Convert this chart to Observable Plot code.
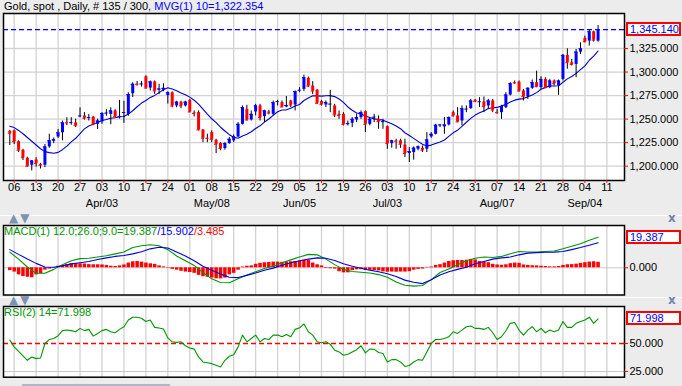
<!DOCTYPE html>
<html><head><meta charset="utf-8">
<script src="https://cdn.jsdelivr.net/npm/d3@7"></script>
<script src="https://cdn.jsdelivr.net/npm/@observablehq/plot@0.6"></script>
<style>
html,body{margin:0;padding:0;background:#ececec;}
#wrap{position:relative;width:682px;height:386px;background:#ececec;overflow:hidden;font-family:"Liberation Sans",Arial,sans-serif;font-size:11px;}
.abs{position:absolute;white-space:nowrap;line-height:13px;}
.box{position:absolute;left:626px;width:55px;height:14px;box-sizing:border-box;border:2px solid #f00;background:#fff;color:#0000ff;font-size:11px;line-height:10px;padding-left:2px;}
.sep{position:absolute;left:0;width:682px;height:1px;background:#ffffff;}
.tri{position:absolute;font-family:"DejaVu Sans",sans-serif;font-size:12px;color:#7f90b5;letter-spacing:2px;line-height:14px;}
.xb{position:absolute;font-family:"DejaVu Sans",sans-serif;font-weight:bold;font-size:12px;color:#7383a8;}
</style></head><body><div id="wrap"></div>
<script>
// ---- data ----
const weekLabels = ["06","13","20","27","03","10","17","24","01","08","15","22","29","05","12","19","26","03","10","17","24","31","07","14","21","28","04","11"];
const monthLabels = ["Apr/03","May/08","Jun/05","Jul/03","Aug/07","Sep/04"];
const monthWeek = [4, 9, 13, 17, 22, 26];

const open = [1237,1237.5,1226,1217,1208.5,1201,1206.5,1202,1201,1220.5,
1226.5,1231,1235.5,1246.5,1246,1246,1253,1253.3,1251,1252,
1244.5,1247,1256,1255,1258.7,1252.3,1256.5,1255,1277,1287.3,
1287,1295,1283,1289.5,1281,1280.6,1275,1278,1264,1268,
1264,1270,1256.5,1257,1238.5,1229.7,1235.7,1227.6,1224,1218.7,
1224,1226.9,1231,1244.5,1260.4,1249.1,1257.6,1264,1252.7,1257.6,
1255.1,1268.2,1267.5,1262.9,1269.3,1265,1280.3,1281.6,1293.3,1285.2,
1280.6,1268.6,1265,1265.7,1264,1255.1,1255.1,1244.2,1245.6,1249.1,
1251.6,1257.9,1244.5,1251.7,1249.8,1247,1242,1224,1226.9,1226.9,
1222.6,1213.4,1214.5,1218,1219.1,1218,1231.1,1233.9,1243.5,1241.7,
1243.8,1256.9,1253.4,1248,1260.4,1261.1,1270,1268,1268.2,1264,
1269.3,1257.2,1256.9,1262.2,1275.6,1288.9,1289.4,1279.9,1273.9,1282.7,
1288.7,1283.4,1292.2,1283.4,1290.5,1285.2,1292.2,1317.7,1309.9,1308.1,
1321.2,1335.7,1332.9,1342.8,1332.9];
const high = [1238,1238.5,1227,1218,1209.5,1206,1209,1203,1223,1234,
1230,1239,1248,1251.5,1251.5,1250,1262,1257,1255,1253,
1250,1257,1260,1262,1260,1270,1269,1278,1288.7,1290,
1290,1296,1290.5,1290.5,1287,1287.6,1279,1279,1269,1269,
1269,1271,1258.7,1258.7,1239,1234,1237.5,1228.6,1225,1225,
1230.4,1233.2,1246.3,1264,1264.7,1258.7,1265.7,1265.7,1259.4,1259.4,
1269.3,1270,1269.3,1274,1270,1279.9,1283.4,1296.8,1294.7,1289.8,
1281.6,1270,1269.3,1280.6,1265.7,1258.7,1256.9,1248,1251.6,1255.1,
1258.7,1258.7,1251.6,1255.1,1253.4,1249.8,1242.8,1227.6,1228.6,1228.6,
1228.6,1219.8,1220.5,1221.5,1221.5,1235.7,1235.7,1244.5,1244.5,1251.6,
1252.3,1258.7,1262.2,1264,1264,1271,1271,1272.8,1273.5,1271,
1271,1260.4,1264.7,1278,1288.7,1290.5,1290.5,1281.6,1283.4,1291.5,
1301,1295,1294,1292.2,1291.5,1291.5,1318.7,1324.7,1313.4,1324,
1331.1,1338.2,1345.2,1343.5,1349.4];
const low = [1222,1223,1214.5,1206,1199,1195,1199,1197,1198.5,1219,
1224,1229.5,1227,1243,1243.5,1241,1251.5,1249,1248,1243,
1239,1244.5,1253,1244,1251.6,1250,1245.5,1253,1273,1285,
1284,1282,1280,1276.3,1276,1279,1266,1262,1262,1261,
1263,1257,1252.3,1237.5,1225,1225,1225,1213.4,1216.3,1217,
1223.3,1225.1,1230.4,1243.8,1248,1248,1253.4,1248,1246.3,1254.4,
1253.4,1264,1262.2,1262.2,1262.2,1258.7,1278.1,1279.2,1283.4,1276,
1265.7,1264,1262.2,1256.9,1251.6,1249.8,1242.8,1242.8,1241,1246.3,
1249.8,1235.7,1242.8,1246.3,1239.2,1239.2,1218,1219.1,1218,1219,
1209.2,1203.9,1206.4,1216.3,1214.5,1214.5,1229.7,1233.2,1241,1233.9,
1242.8,1252.3,1246.3,1242.8,1256.9,1260.4,1267.5,1262.2,1256.9,1260.4,
1256.9,1255.1,1249.8,1261.1,1274.6,1286.9,1278.8,1269.3,1271,1281.6,
1283.4,1281.6,1282.3,1282.3,1285.2,1275.3,1290.5,1303,1306.4,1294,
1318.7,1331.1,1327.6,1331.8,1331.8];
const close = [1235,1226,1217,1209,1200,1205.5,1203,1201,1220.5,1227,
1228,1235.5,1246,1246,1246.3,1243,1253.3,1251,1251.6,1244.5,
1248,1256,1256.3,1258.7,1252.6,1252.6,1257,1276,1287,1287,
1287.3,1283,1289.5,1280,1282,1282.7,1278,1264,1268,1264,
1268,1257.6,1256,1238.5,1229.7,1229.5,1228.6,1223.3,1218.7,1224,
1228.6,1231.1,1244.5,1262.2,1249.1,1255.1,1264,1251.6,1258.7,1256.5,
1267.5,1268.6,1262.9,1264.5,1265,1279.2,1280.6,1294,1285.2,1279.9,
1266.8,1265.7,1267.5,1265.9,1254.4,1254,1244.5,1245.2,1249.8,1251.6,
1256.9,1244.5,1249.8,1252,1247.3,1247.3,1224,1226.9,1226.6,1223.3,
1213.4,1215.5,1219.1,1220.5,1217,1227.9,1233.9,1243.5,1243.8,1243.8,
1251.6,1253.4,1247,1261.1,1260.6,1269.3,1268.9,1268.4,1263.3,1269.3,
1259.7,1256.9,1263.3,1275.6,1287.6,1288.5,1279.9,1273.9,1282.7,1288.7,
1284.5,1292.2,1283.4,1290.5,1287.6,1290.5,1317.7,1309.9,1308.1,1321.2,
1324.7,1332.2,1342.8,1333.9,1345.14];
const mvg10 = [1242.5,1241,1238,1234.5,1230.5,1226.5,1222.5,1218.5,1215.5,1214.4,
1213.7,1214.65,1217.55,1221.25,1225.88,1229.63,1234.66,1239.66,1242.77,1244.52,
1246.52,1248.57,1249.6,1250.87,1251.5,1252.46,1252.83,1255.33,1258.87,1263.12,
1267.05,1269.75,1273.07,1275.2,1278.14,1281.15,1283.25,1282.05,1280.15,1277.85,
1275.92,1273.38,1270.03,1265.88,1260.65,1255.33,1250.39,1246.32,1241.39,1237.39,
1233.45,1230.8,1229.65,1232.02,1233.96,1236.52,1240.06,1242.89,1246.89,1250.14,
1254.03,1257.78,1259.62,1259.85,1261.44,1263.85,1265.51,1269.75,1272.4,1274.74,
1274.67,1274.38,1274.84,1274.98,1273.92,1271.4,1267.79,1262.91,1259.37,1256.54,
1255.55,1253.43,1251.66,1250.27,1249.56,1248.89,1246.84,1245.01,1242.69,1239.86,
1235.51,1232.61,1229.54,1226.39,1223.36,1221.42,1222.41,1224.07,1225.79,1227.84,
1231.66,1235.45,1238.24,1242.3,1246.66,1250.8,1254.3,1256.79,1258.74,1261.29,
1262.1,1262.45,1264.08,1265.53,1268.23,1270.15,1271.25,1271.8,1273.74,1275.68,
1278.16,1281.69,1283.7,1285.19,1285.19,1285.39,1289.17,1292.77,1295.31,1298.56,
1302.58,1306.58,1312.52,1316.86,1322.35];
const priceTicks = [1200, 1225, 1250, 1275, 1300, 1325];

// MACD lines sampled every 2nd bar (bars 0,2,...,134)
const macdLine = [9.9,5.5,0.5,-3.5,-3.5,-1.0,2.0,4.5,5.8,6.0,
6.8,7.6,8.8,10.0,12.8,14.0,14.6,14.0,11.5,7.5,
4.5,1.5,-3.0,-7.0,-9.3,-9.5,-7.0,-4.5,-2.5,-0.5,
1.0,3.2,5.0,6.8,8.5,8.2,5.5,2.0,-1.0,-2.3,
-2.8,-3.3,-4.3,-6.0,-9.0,-11.0,-11.6,-11.2,-7.5,-3.0,
-0.8,2.0,4.4,6.0,6.8,6.5,7.2,8.9,10.3,10.0,
10.0,10.3,10.6,12.0,13.6,15.2,17.5,19.387];
const signalLine = [11.5,8.5,5.5,2.8,0.5,0.3,1.2,2.5,3.2,4.0,
5.3,6.3,7.2,7.8,8.8,10.2,12.0,13.0,12.5,10.0,
7.5,4.5,1.0,-1.5,-4.0,-6.0,-6.2,-4.8,-3.3,-1.5,
-0.2,1.6,3.2,4.5,5.5,6.3,6.0,4.6,2.5,1.0,
-0.3,-1.5,-2.5,-3.8,-5.5,-7.8,-9.2,-10.0,-7.5,-4.5,
-2.5,-1.0,0.4,2.5,4.0,5.5,6.3,6.8,8.2,9.3,
9.6,9.8,9.9,10.3,11.5,12.8,14.3,15.902];
const histogram = [-1.8,-2.7,-4.5,-5.5,-6.0,-6.3,-4.5,-3.8,-1.5,-0.8,
-0.3,1.0,1.5,2.0,2.5,2.6,2.5,2.4,2.0,1.9,
1.9,1.8,1.5,1.0,0.8,1.2,1.8,3.0,3.8,4.0,
3.6,3.0,2.5,2.2,1.2,0.6,-0.3,-1.0,-1.5,-2.2,
-2.7,-3.0,-3.5,-4.8,-5.6,-6.0,-6.5,-7.0,-7.0,-6.5,
-4.5,-3.5,-1.5,0.5,1.0,1.2,2.2,2.8,3.2,3.4,
3.6,3.6,3.5,3.6,3.8,4.0,4.2,4.6,4.6,3.0,
1.9,1.2,-0.4,-0.6,-0.8,-2.5,-3.2,-3.2,-1.8,-1.3,
-1.2,-1.7,-1.6,-1.7,-2.0,-2.6,-2.8,-2.7,-2.8,-2.7,
-2.7,-2.5,-1.5,-1.0,-0.8,0.3,0.5,1.5,2.0,3.0,
4.0,4.5,4.6,4.6,4.8,5.3,5.0,4.0,3.6,3.2,
2.2,1.8,1.6,1.9,2.6,3.0,2.8,1.8,1.5,1.3,
1.2,1.0,0.8,0.6,0.6,0.8,1.5,1.9,2.0,2.3,
2.8,3.2,3.6,3.8,3.485];
const macdTicks = [0];

const rsi = [53,47,43,39,35,38,36.5,37,50,53.5,
54.5,57,61.5,62,61.5,60.5,63.5,61.5,62.6,56.6,
59,61.5,62.6,60.5,59.6,62.6,65,71,73.5,73.5,
72.6,69.6,71,64.4,63.8,63,55,51.5,51,51.5,
48,46,45,38,33.5,32.8,32,30.5,29,35,
38.6,40,47,57.5,51.5,54.5,57.5,51.5,54.5,53.5,
57.5,57.5,56,58,56,62.6,64,67.4,60.5,57.5,
51.5,50.6,51.5,49.4,44,42.5,39.5,40.4,42.5,44.5,
48,41.6,45,44.8,42,41,33.5,35.6,35.6,33.5,
29.5,30.4,33.5,35.6,35,42.5,50,53.6,53.6,54.5,
56,60.5,59,62,65,65.6,63.5,63.5,62.6,64.4,
59.6,53.6,56,61.4,68,68.7,62,57.5,62,65,
60.5,63.5,59.6,62,60.5,62,69.6,64.4,64.4,68,
69.6,71,73.5,68,71.998];
const rsiTicks = [25, 50];

// ---- tables built from the arrays ----
const candles = close.map((c, i) => ({i, open: open[i], high: high[i], low: low[i], close: c}));
const maRows = mvg10.map((v, i) => ({i, v}));
const macdRows = macdLine.map((v, k) => ({i: 2 * k, v}));
const signalRows = signalLine.map((v, k) => ({i: 2 * k, v}));
const histRows = histogram.map((v, i) => ({i, v}));
const rsiRows = rsi.map((v, i) => ({i, v}));
const weekRows = weekLabels.map((label, k) => ({i: 1 + 5 * k, label}));
const weekIdx = weekRows.map(d => d.i);
const monthRows = monthLabels.map((label, k) => ({i: weekRows[monthWeek[k]].i, label}));
const lastClose = close[close.length - 1];

const XD = [-1.435, 140.02];
const GRID = "#d2d2d2";
const BLUE = "#0000ff", RED = "#ff0000", GREEN = "#009600";
const f3 = d3.format(".3f"), fc3 = d3.format(",.3f");
const bodyColor = d => d.close >= d.open ? BLUE : RED;
const svgStyle = top => ({position: "absolute", left: "0px", top: top + "px", background: "transparent", overflow: "visible", fontFamily: "'Liberation Sans', Arial, sans-serif", fontSize: "11px", maxWidth: "none"});

const PY = [1184.8, 1362.2];
const price = Plot.plot({
  width: 682, height: 215, marginLeft: 3, marginRight: 58, marginTop: 13, marginBottom: 35,
  x: {domain: XD, axis: null}, y: {domain: PY, axis: null},
  style: svgStyle(0),
  marks: [
    Plot.frame({fill: "white", stroke: "none"}),
    Plot.ruleY(priceTicks, {stroke: GRID, strokeWidth: 1.3}),
    Plot.ruleX(weekIdx, {stroke: GRID, strokeWidth: 1.3}),
    Plot.ruleY([lastClose], {stroke: BLUE, strokeWidth: 1.3, strokeDasharray: "5,3"}),
    Plot.line(maRows, {x: "i", y: "v", stroke: "#0000d0", strokeWidth: 1.1}),
    Plot.ruleX(candles, {x: "i", y1: "low", y2: "high", stroke: "black", strokeWidth: 1}),
    Plot.ruleX(candles, {x: "i", y1: "open", y2: "close", stroke: bodyColor, strokeWidth: 3}),
    Plot.ruleY(candles, {y: "close", x1: d => d.i - 0.36, x2: d => d.i + 0.36, stroke: bodyColor, strokeWidth: 1}),
    Plot.frame({stroke: "black", strokeWidth: 1.5}),
    Plot.ruleY(priceTicks, {x1: XD[1], x2: XD[1], insetRight: -4, stroke: RED}),
    Plot.text(priceTicks, {x: XD[1], y: d => d, text: fc3, textAnchor: "start", dx: 5, fontSize: 11, fill: "black"}),
    Plot.ruleX(weekIdx, {y1: PY[0], y2: PY[0], insetBottom: -3, stroke: RED}),
    Plot.text(weekRows, {x: "i", frameAnchor: "bottom", dy: 10, text: "label", fontSize: 11, fill: "black"}),
    Plot.text(monthRows, {x: "i", frameAnchor: "bottom", dy: 26, text: "label", fontSize: 11, fill: "black"})
  ]
});

const MY = [-17.22, 26.77];
const macd = Plot.plot({
  width: 682, height: 80, marginLeft: 3, marginRight: 58, marginTop: 5, marginBottom: 5.5,
  x: {domain: XD, axis: null}, y: {domain: MY, axis: null},
  style: svgStyle(220),
  marks: [
    Plot.frame({fill: "white", stroke: "none"}),
    Plot.ruleX(weekIdx, {stroke: GRID, strokeWidth: 1.3}),
    Plot.ruleY(macdTicks, {stroke: "#c8c8c8", strokeWidth: 1}),
    Plot.ruleX(histRows, {x: "i", y1: 0, y2: "v", stroke: RED, strokeWidth: 3.5}),
    Plot.line(macdRows, {x: "i", y: "v", stroke: GREEN, strokeWidth: 1.1}),
    Plot.line(signalRows, {x: "i", y: "v", stroke: "#0000e0", strokeWidth: 1.1}),
    Plot.frame({stroke: "black", strokeWidth: 1.5}),
    Plot.ruleY(macdTicks, {x1: XD[1], x2: XD[1], insetRight: -4, stroke: RED}),
    Plot.text(macdTicks, {x: XD[1], y: d => d, text: f3, textAnchor: "start", dx: 5, fontSize: 11, fill: "black"})
  ]
});

const RY = [19.91, 83.04];
const rsiPlot = Plot.plot({
  width: 682, height: 82, marginLeft: 3, marginRight: 58, marginTop: 6, marginBottom: 5.3,
  x: {domain: XD, axis: null}, y: {domain: RY, axis: null},
  style: svgStyle(300),
  marks: [
    Plot.frame({fill: "white", stroke: "none"}),
    Plot.ruleX(weekIdx, {stroke: GRID, strokeWidth: 1.3}),
    Plot.ruleY([rsiTicks[0]], {stroke: "#c8c8c8", strokeWidth: 1}),
    Plot.ruleY([rsiTicks[1]], {stroke: RED, strokeWidth: 1.3, strokeDasharray: "5,3"}),
    Plot.line(rsiRows, {x: "i", y: "v", stroke: GREEN, strokeWidth: 1.1}),
    Plot.frame({stroke: "black", strokeWidth: 1.5}),
    Plot.ruleY(rsiTicks, {x1: XD[1], x2: XD[1], insetRight: -4, stroke: RED}),
    Plot.text(rsiTicks, {x: XD[1], y: d => d, text: f3, textAnchor: "start", dx: 5, fontSize: 11, fill: "black"})
  ]
});

const wrap = document.getElementById("wrap");
wrap.appendChild(price);
wrap.appendChild(macd);
wrap.appendChild(rsiPlot);

function yAt(plot, v, top) {
  const s = plot.scale("y");
  if (s && typeof s.apply === "function") return top + s.apply(v);
  const [d0, d1] = s.domain, [r0, r1] = s.range;
  return top + r0 + (v - d0) / (d1 - d0) * (r1 - r0);
}
function addDiv(cls, style, html) {
  const el = document.createElement("div");
  el.className = cls; el.setAttribute("style", style); el.innerHTML = html;
  wrap.appendChild(el); return el;
}
// title and panel captions
addDiv("abs", "left:4px;top:0px;", `<span style="color:#000">Gold, spot , Daily, # 135 / 300</span><span style="color:#0000ff">, MVG(1) 10=${d3.format(",.3f")(1322.354)}</span>`);
addDiv("abs", "left:4px;top:225px;", `<span style="color:${GREEN}">MACD(1) 12.0;26.0;9.0=${f3(macdLine[macdLine.length-1])}</span><span style="color:#0000ff">/${f3(signalLine[signalLine.length-1])}</span><span style="color:#ff0000">/${f3(histogram[histogram.length-1])}</span>`);
addDiv("abs", "left:4px;top:306px;", `<span style="color:${GREEN}">RSI(2) 14=${f3(rsi[rsi.length-1])}</span>`);
// value boxes at the current values
addDiv("box", `top:${yAt(price, lastClose, 0) - 7}px;`, fc3(lastClose));
addDiv("box", `top:${yAt(macd, macdLine[macdLine.length-1], 220) - 7}px;`, f3(macdLine[macdLine.length-1]));
addDiv("box", `top:${yAt(rsiPlot, rsi[rsi.length-1], 300) - 7}px;`, f3(rsi[rsi.length-1]));
// panel separators
addDiv("sep", "top:215px;", "");
addDiv("sep", "top:297px;", "");
addDiv("tri", "left:9px;top:211px;", "▲▼");
addDiv("tri", "left:9px;top:293px;", "▲▼");
addDiv("xb", "left:668px;top:211px;", "x");
addDiv("xb", "left:668px;top:293px;", "x");
addDiv("abs", "left:22px;top:384px;width:148px;height:2px;background:#aeb6ca;", "");
</script></body></html>
